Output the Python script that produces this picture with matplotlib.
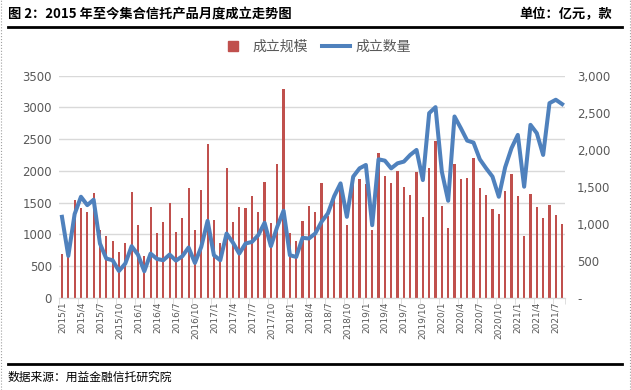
import matplotlib
matplotlib.use('Agg')
import matplotlib.pyplot as plt
from matplotlib.lines import Line2D
from matplotlib.ticker import FixedLocator, FuncFormatter

### Data: monthly, 2015/1 - 2021/8
months = [f'{y}/{m}' for y in range(2015, 2022) for m in range(1, 13)][:80]

# 成立规模 (亿元), left axis
scale = [685, 640, 1539, 1412, 1349, 1650, 1065, 970, 891, 717, 859, 1665,
         1144, 653, 1428, 1017, 1191, 1491, 1033, 1254, 1729, 1065, 1697, 2424,
         1223, 859, 2045, 1191, 1428, 1412, 1602, 1349, 1823, 1175, 2108, 3294,
         1017, 891, 1207, 1444, 1349, 1808, 1286, 1568, 1718, 1147, 1814, 1872,
         1800, 1068, 2287, 1920, 1808, 1997, 1744, 1618, 1982, 1270, 2045, 2472,
         1444, 1096, 2108, 1871, 1887, 2203, 1729, 1618, 1397, 1318, 1681, 1950,
         1602, 970, 1634, 1428, 1254, 1460, 1302, 1159]

# 成立数量 (款), right axis
count = [1093, 565, 1130, 1364, 1251, 1324, 732, 529, 506, 361, 461, 696,
         583, 357, 596, 524, 506, 583, 501, 560, 678, 470, 687, 1039,
         574, 506, 867, 745, 596, 732, 754, 845, 1012, 696, 958, 1175,
         574, 551, 809, 800, 867, 1026, 1139, 1373, 1545, 1093, 1636, 1748,
         1794, 980, 1870, 1852, 1748, 1816, 1839, 1929, 1997, 1590, 2494, 2575,
         1703, 1310, 2449, 2291, 2123, 2096, 1870, 1748, 1636, 1364, 1762, 2020,
         2200, 1500, 2336, 2223, 1929, 2629, 2675, 2616]

left_ticks = [0, 500, 1000, 1500, 2000, 2500, 3000, 3500]
right_ticks = [0, 500, 1000, 1500, 2000, 2500, 3000]

title = '图 2：2015 年至今集合信托产品月度成立走势图'
unit = '单位：亿元，款'
source = '数据来源：用益金融信托研究院'

CJK = ['Noto Sans CJK SC', 'DejaVu Sans']
plt.rcParams['font.family'] = ['DejaVu Sans', 'Noto Sans CJK SC']
grey = '#595959'
red = '#C0504D'
blue = '#4F81BD'

W, H = 631, 390
fig = plt.figure(figsize=(W / 100, H / 100), dpi=100)

# plot area in pixels
x0, x1, ytop, ybot = 58.8, 565.3, 75.7, 297.7
ax = fig.add_axes([x0 / W, 1 - ybot / H, (x1 - x0) / W, (ybot - ytop) / H])
ax2 = ax.twinx()

xs = list(range(len(months)))
ax.bar(xs, scale, width=0.34, color=red, zorder=2)
ax2.plot(xs, count, color=blue, lw=2.9, solid_joinstyle='round')

ax.set_xlim(-0.5, len(months) - 0.5)
ax.set_ylim(0, 3500)
ax2.set_ylim(0, 3000)

# left axis
ax.set_yticks(left_ticks)
ax.yaxis.grid(True, color='#D9D9D9', lw=1)
ax.set_axisbelow(True)
ax.tick_params(axis='y', length=0, pad=5, labelsize=8.5, labelcolor=grey)

# right axis
ax2.set_yticks(right_ticks)
ax2.yaxis.set_major_formatter(FuncFormatter(lambda v, p: '-' if v == 0 else f'{int(v):,}'))
ax2.tick_params(axis='y', length=0, pad=8.5, labelsize=8.5, labelcolor=grey)

# x axis: labels every 3 months, tick marks at category boundaries
ax.set_xticks(xs[::3])
ax.set_xticklabels(months[::3], rotation=90)
ax.tick_params(axis='x', which='major', length=0, pad=3, labelsize=6.5, labelcolor=grey)
ax.xaxis.set_minor_locator(FixedLocator([i - 0.5 for i in xs[::3]] + [len(months) - 0.5]))
ax.tick_params(axis='x', which='minor', length=4, color='#D9D9D9', direction='out')

for a in (ax, ax2):
    for side in ('left', 'right', 'top'):
        a.spines[side].set_visible(False)
    a.spines['bottom'].set_color('#D9D9D9')

# legend: square for bars, line for count
handles = [Line2D([], [], marker='s', ls='none', color=red, markersize=7),
           Line2D([], [], color=blue, lw=2.9)]
leg = fig.legend(handles, ['成立规模', '成立数量'], loc='center',
                 bbox_to_anchor=(315 / W, 1 - 47 / H), ncol=2, frameon=False,
                 prop={'family': CJK, 'size': 10}, handlelength=2.0,
                 handletextpad=0.4, columnspacing=1.0)
for t in leg.get_texts():
    t.set_color(grey)

# header / footer
fig.text(8 / W, 1 - 14 / H, title, family=CJK, fontsize=9.5, weight='bold', va='center', ha='left')
fig.text(612 / W, 1 - 14 / H, unit, family=CJK, fontsize=9.5, weight='bold', va='center', ha='right')
fig.add_artist(Line2D([8 / W, 622 / W], [1 - 27 / H, 1 - 27 / H], color='black', lw=2))
fig.add_artist(Line2D([8 / W, 622 / W], [1 - 364 / H, 1 - 364 / H], color='black', lw=2))
fig.text(8 / W, 1 - 377 / H, source, family=CJK, fontsize=8.5, va='center', ha='left')

# page borders
fig.add_artist(Line2D([0.5 / W, 0.5 / W], [0, 1], color='#A0A0A0', lw=0.8, ls=':'))
fig.add_artist(Line2D([1 - 1.5 / W, 1 - 1.5 / W], [0, 1], color='#A0A0A0', lw=0.8, ls=':'))

fig.savefig('out.png', dpi=100)
